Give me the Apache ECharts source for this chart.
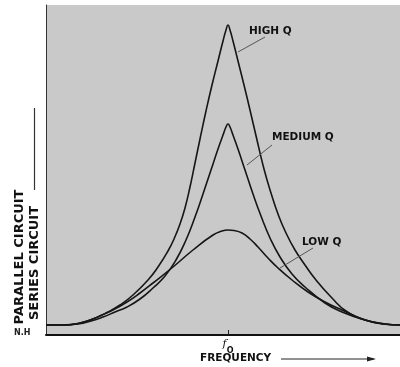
<!DOCTYPE html>
<html>
<head>
<meta charset="utf-8">
<script src="https://cdn.jsdelivr.net/npm/echarts@6/dist/echarts.min.js"></script>
<style>
  html, body { margin: 0; padding: 0; background: #fff; }
  #chart { width: 400px; height: 367px; }
</style>
</head>
<body>
<div id="chart"></div>
<script>
// Resonance curves: x = frequency offset from f0 (arbitrary units), y = response
const highQ = [
  [-182, 10], [-165, 10], [-150, 11.5], [-135, 16], [-120, 23], [-108, 30],
  [-95, 40], [-80, 55], [-70, 68], [-60, 84], [-54, 96], [-48, 111],
  [-43, 127], [-38, 148], [-33, 172], [-28, 196], [-22, 224], [-16, 250],
  [-10, 274], [-5, 294], [-2, 305], [0, 310], [2, 305], [5, 294],
  [10, 274], [16, 250], [22, 225], [29, 195], [36, 166], [43, 142],
  [50, 121], [58, 102], [67, 85], [77, 70], [88, 55], [104, 37],
  [118, 24], [137, 15], [157, 11], [172, 10]
];
const mediumQ = [
  [-182, 10], [-165, 10], [-150, 11], [-137, 14], [-125, 18], [-113, 23],
  [-101, 28], [-88, 36], [-75, 47], [-63, 59], [-52, 75], [-42, 95],
  [-33, 118], [-25, 141], [-17, 165], [-10, 186], [-5, 200], [-2, 208],
  [0, 211], [2, 208], [5, 200], [10, 186], [17, 165], [25, 141],
  [33, 119], [42, 97], [52, 78], [64, 61], [77, 48], [97, 32],
  [114, 23], [137, 15], [157, 11], [172, 10]
];
const lowQ = [
  [-182, 10], [-165, 10], [-150, 11.5], [-138, 15], [-126, 20], [-115, 25],
  [-101, 33], [-88, 42], [-75, 52], [-55, 68], [-35, 85], [-15, 100],
  [-6, 104], [0, 105], [6, 104.5], [14, 102], [22, 96], [30, 88],
  [40, 77], [50, 67], [64, 55], [80, 43], [97, 33], [114, 25],
  [137, 15], [154, 11], [172, 10]
];
const seriesNames = ['HIGH Q', 'MEDIUM Q', 'LOW Q'];
const xTickValues = [0];

const chart = echarts.init(document.getElementById('chart'), null, { renderer: 'canvas' });

const ink = '#161616';
const boldFont = { fontFamily: 'DejaVu Sans', fontWeight: 'bold' };

function curve(name, data, leader, textAt) {
  return {
    name: name,
    type: 'line',
    data: data,
    smooth: 0.5,
    showSymbol: false,
    silent: true,
    lineStyle: { color: ink, width: 1.6 },
    markLine: {
      silent: true,
      symbol: ['none', 'none'],
      lineStyle: { color: '#555', width: 1, type: 'solid' },
      label: { show: false },
      data: [[{ coord: leader[0] }, { coord: leader[1] }]]
    },
    markPoint: {
      silent: true,
      symbol: 'circle',
      symbolSize: 0,
      data: [{
        coord: textAt,
        label: Object.assign({
          show: true, formatter: name, position: 'right', distance: 0,
          fontSize: 10.5, color: '#111'
        }, boldFont)
      }]
    }
  };
}

chart.setOption({
  animation: false,
  backgroundColor: '#fff',
  grid: {
    left: 46, right: 0, top: 5, bottom: 32,
    show: true, backgroundColor: '#c9c9c9', borderWidth: 0,
    outerBoundsMode: 'none'
  },
  xAxis: {
    type: 'value', min: -182, max: 172,
    axisLine: { show: true, onZero: false, lineStyle: { color: '#111', width: 2 } },
    axisTick: { show: true, customValues: xTickValues, length: -5, lineStyle: { color: '#222', width: 1 } },
    axisLabel: {
      show: true, customValues: xTickValues, margin: 4,
      formatter: function () { return '{f|f}{o|O}'; },
      rich: {
        f: { fontFamily: 'DejaVu Serif', fontSize: 11, fontStyle: 'italic', color: '#111', verticalAlign: 'top', padding: [0, 0, 4, 0] },
        o: { fontFamily: 'DejaVu Sans', fontSize: 8, fontWeight: 'bold', color: '#111', verticalAlign: 'bottom', padding: [8, 0, 0, 0] }
      }
    },
    splitLine: { show: false }
  },
  yAxis: {
    type: 'value', min: 0, max: 330,
    axisLine: { show: true, onZero: false, lineStyle: { color: '#333', width: 1 } },
    axisTick: { show: false },
    axisLabel: { show: false },
    splitLine: { show: false }
  },
  series: [
    curve(seriesNames[0], highQ, [[10, 283], [37, 298]], [21, 304]),
    curve(seriesNames[1], mediumQ, [[19, 170], [44, 190]], [44, 198]),
    curve(seriesNames[2], lowQ, [[52, 67], [85, 87]], [74, 93])
  ],
  graphic: [
    {
      type: 'text', x: 20, y: 257, rotation: Math.PI / 2,
      style: Object.assign({ text: 'PARALLEL CIRCUIT', fontSize: 13, align: 'center', verticalAlign: 'middle', fill: '#111' }, boldFont)
    },
    {
      type: 'text', x: 35, y: 263, rotation: Math.PI / 2,
      style: Object.assign({ text: 'SERIES CIRCUIT', fontSize: 13, align: 'center', verticalAlign: 'middle', fill: '#111' }, boldFont)
    },
    {
      type: 'line', shape: { x1: 34.5, y1: 108, x2: 34.5, y2: 190 },
      style: { stroke: '#333', lineWidth: 1.2 }
    },
    {
      type: 'text', x: 14, y: 333,
      style: Object.assign({ text: 'N.H', fontSize: 8, verticalAlign: 'middle', fill: '#222' }, boldFont)
    },
    {
      type: 'text', x: 200, y: 358,
      style: Object.assign({ text: 'FREQUENCY', fontSize: 10.5, verticalAlign: 'middle', fill: '#111' }, boldFont)
    },
    {
      type: 'line', shape: { x1: 281, y1: 359, x2: 374, y2: 359 },
      style: { stroke: '#222', lineWidth: 1 }
    },
    {
      type: 'polygon', shape: { points: [[376, 359], [367, 356.5], [367, 361.5]] },
      style: { fill: '#222' }
    }
  ]
});
</script>
</body>
</html>
